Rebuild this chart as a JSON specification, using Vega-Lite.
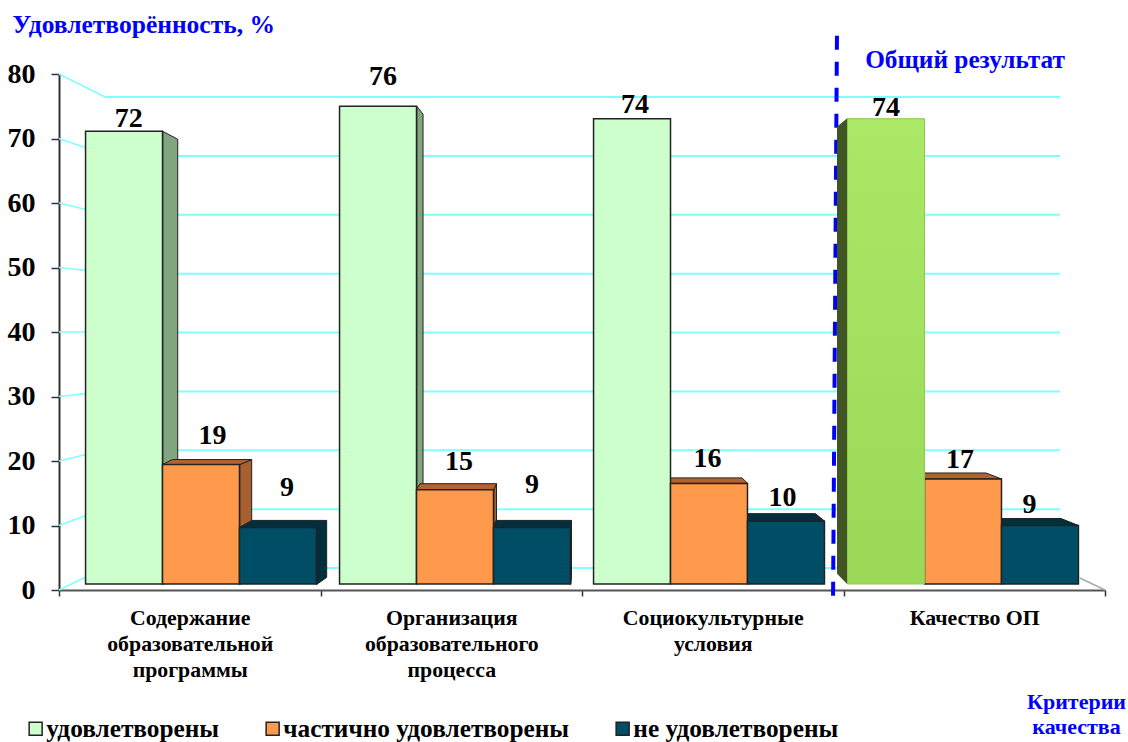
{"$schema":"https://vega.github.io/schema/vega-lite/v6.json","width":1128,"height":742,"autosize":{"type":"none"},"padding":0,"background":"white",
"config":{"view":{"stroke":null},"font":"Liberation Serif","text":{"font":"Liberation Serif","fontSize":28,"fontWeight":"bold","color":"#000"}},
"data":{"values":[
{"criterion":"Содержание\nобразовательной\nпрограммы","group":"удовлетворены","value":72,"bar":"a1"},
{"criterion":"Содержание\nобразовательной\nпрограммы","group":"частично удовлетворены","value":19,"bar":"b1"},
{"criterion":"Содержание\nобразовательной\nпрограммы","group":"не удовлетворены","value":9,"bar":"c1"},
{"criterion":"Организация\nобразовательного\nпроцесса","group":"удовлетворены","value":76,"bar":"a2"},
{"criterion":"Организация\nобразовательного\nпроцесса","group":"частично удовлетворены","value":15,"bar":"b2"},
{"criterion":"Организация\nобразовательного\nпроцесса","group":"не удовлетворены","value":9,"bar":"c2"},
{"criterion":"Социокультурные\nусловия","group":"удовлетворены","value":74,"bar":"a3"},
{"criterion":"Социокультурные\nусловия","group":"частично удовлетворены","value":16,"bar":"b3"},
{"criterion":"Социокультурные\nусловия","group":"не удовлетворены","value":10,"bar":"c3"},
{"criterion":"Качество ОП","group":"удовлетворены","value":74,"bar":"a4"},
{"criterion":"Качество ОП","group":"частично удовлетворены","value":16.7,"bar":"b4"},
{"criterion":"Качество ОП","group":"не удовлетворены","value":9.3,"bar":"c4"}
]},
"resolve":{"scale":{"x":"independent","y":"independent","shape":"independent"}},
"layer":[
{"data":{"values":[{"level":0},{"level":10},{"level":20},{"level":30},{"level":40},{"level":50},{"level":60},{"level":70},{"level":80}]},
 "mark":{"type":"rule","color":"#80ffff","strokeWidth":2},
 "encoding":{"y":{"field":"level","type":"quantitative","scale":{"domain":[0,80],"range":[568,97]},"axis":null},
  "x":{"datum":0,"type":"quantitative","scale":{"domain":[0,1],"range":[105,1060]},"axis":null},"x2":{"datum":1}}},
{"data":{"values":[{"level":0},{"level":10},{"level":20},{"level":30},{"level":40},{"level":50},{"level":60},{"level":70},{"level":80}]},
 "mark":{"type":"point","filled":false,"opacity":1,"size":40000,"stroke":"#80ffff","strokeWidth":1.5},
 "encoding":{"y":{"field":"level","type":"quantitative","scale":{"domain":[0,80],"range":[590,74]},"axis":null},
  "x":{"datum":0,"type":"quantitative","scale":{"domain":[0,4],"range":[59,1105]},"axis":null},
  "shape":{"field":"level","type":"nominal","legend":null,"scale":{"domain":[0,10,20,30,40,50,60,70,80],"range":["M0,0L0.46,-0.22","M0,0L0.46,-0.17","M0,0L0.46,-0.11","M0,0L0.46,-0.05","M0,0L0.46,0","M0,0L0.46,0.05","M0,0L0.46,0.11","M0,0L0.46,0.16","M0,0L0.46,0.23"]}}}},
{"data":{"values":[{"part":"floor"}]},"mark":{"type":"rule","color":"#aaaaaa","strokeWidth":1.5},
 "encoding":{"x":{"datum":3.904,"type":"quantitative","scale":{"domain":[0,4],"range":[59,1105]},"axis":null},"x2":{"datum":4},
  "y":{"datum":1.86,"type":"quantitative","scale":{"domain":[0,80],"range":[590,74]},"axis":null},"y2":{"datum":0}}},
{"data":{"values":[{"part":"divider"}]},"mark":{"type":"rule","color":"#0000ff","strokeWidth":4,"strokeDash":[14,12]},
 "encoding":{"x":{"datum":2.975,"type":"quantitative","scale":{"domain":[0,4],"range":[59,1105]},"axis":null},"x2":{"datum":2.96},
  "y":{"datum":85.94,"type":"quantitative","scale":{"domain":[0,80],"range":[590,74]},"axis":null},"y2":{"datum":-1.55}}},
{"data":{"values":[{"part":"note"}]},"mark":{"type":"text","color":"#0000ff","fontSize":25.3,"text":"Общий результат"},
 "encoding":{"x":{"datum":3.465,"type":"quantitative","scale":{"domain":[0,4],"range":[59,1105]},"axis":null},
  "y":{"datum":82.2,"type":"quantitative","scale":{"domain":[0,80],"range":[590,74]},"axis":null}}},
{"mark":{"type":"point","opacity":0},
 "encoding":{
  "x":{"field":"criterion","type":"nominal","sort":null,"scale":{"range":[59,1105],"paddingInner":0,"paddingOuter":0},
   "axis":{"orient":"bottom","offset":-152,"tickBand":"extent","labelAngle":0,"labelExpr":"split(datum.label,'\\n')","labelLineHeight":26,"labelLimit":400,"labelFont":"Liberation Serif","labelFontSize":21.8,"labelFontWeight":"bold","labelColor":"#000","labelPadding":11,"labelBaseline":"top","domainColor":"#555","domainWidth":2,"tickColor":"#333","tickSize":6,"tickWidth":1.5,"grid":false,
    "title":["Критерии","качества"],"titleX":1076,"titleY":101,"titleFont":"Liberation Serif","titleFontSize":22,"titleFontWeight":"bold","titleColor":"#0000ff","titleAlign":"center","titleLineHeight":25}},
  "y":{"field":"value","type":"quantitative","scale":{"domain":[0,80],"range":[590,74]},
   "axis":{"offset":-59,"values":[0,10,20,30,40,50,60,70,80],"grid":false,"labelFont":"Liberation Serif","labelFontSize":28,"labelFontWeight":"bold","labelColor":"#000","labelPadding":16,"tickSize":8,"tickColor":"#333","tickWidth":1.5,"domainColor":"#333","domainWidth":2,
    "title":"Удовлетворённость, %","titleAngle":0,"titleAlign":"left","titleBaseline":"alphabetic","titleX":-47,"titleY":32,"titleFont":"Liberation Serif","titleFontSize":25.5,"titleFontWeight":"bold","titleColor":"#0000ff"}}}},
{"resolve":{"scale":{"shape":"independent"}},
 "encoding":{
  "x":{"field":"criterion","type":"nominal","axis":null,"scale":{"domain":["Содержание\nобразовательной\nпрограммы","Организация\nобразовательного\nпроцесса","Социокультурные\nусловия","Качество ОП"],"range":[74,1090],"paddingInner":0,"paddingOuter":0}},
  "xOffset":{"field":"group","type":"nominal","scale":{"domain":["удовлетворены","частично удовлетворены","не удовлетворены"],"paddingInner":0,"paddingOuter":0.15}},
  "y":{"field":"value","type":"quantitative","axis":null,"scale":{"domain":[0,80],"range":[584,81]}}},
 "layer":[
 {"transform":[{"filter":"datum.bar=='a1'||datum.bar=='a2'"}],
  "mark":{"type":"point","filled":true,"opacity":1,"size":40000,"fill":"#81a57f","stroke":"#222","strokeWidth":1},
  "encoding":{"shape":{"field":"bar","type":"nominal","legend":null,"scale":{"domain":["a1","a2"],
   "range":["M0.387,0L0.537,0.08L0.537,4.45L0.387,4.53Z","M0.387,0L0.45,0.08L0.45,4.7L0.387,4.78Z"]}}}},
 {"transform":[{"filter":"datum.bar=='b1'||datum.bar=='b2'"}],
  "mark":{"type":"point","filled":true,"opacity":1,"size":40000,"fill":"#a76131","stroke":"#222","strokeWidth":1},
  "encoding":{"shape":{"field":"bar","type":"nominal","legend":null,"scale":{"domain":["b1","b2"],
   "range":["M0.387,0L0.507,-0.05L0.507,1.12L0.387,1.2Z","M0.387,0L0.415,-0.06L0.415,0.88L0.387,0.945Z"]}}}},
 {"transform":[{"filter":"datum.bar=='c1'||datum.bar=='c2'"}],
  "mark":{"type":"point","filled":true,"opacity":1,"size":40000,"fill":"#002e3c","stroke":"#222","strokeWidth":1},
  "encoding":{"shape":{"field":"bar","type":"nominal","legend":null,"scale":{"domain":["c1","c2"],
   "range":["M0.387,0L0.487,-0.07L0.487,0.5L0.387,0.57Z","M0.387,0L0.395,-0.07L0.395,0.5L0.387,0.57Z"]}}}},
 {"transform":[{"filter":"datum.bar=='a4'"}],
  "mark":{"type":"point","filled":true,"opacity":1,"size":40000,"fill":"#3f5522","stroke":"#3f5522","strokeWidth":1,"shape":"M-0.387,0L-0.485,0.08L-0.485,4.55L-0.387,4.65Z"}},
 {"transform":[{"filter":"datum.group=='частично удовлетворены'"}],
  "mark":{"type":"point","filled":true,"opacity":1,"size":40000,"fill":"#b4632f","stroke":"#222","strokeWidth":1},
  "encoding":{"shape":{"field":"bar","type":"nominal","legend":null,"scale":{"domain":["b1","b2","b3","b4"],
   "range":["M-0.387,0L-0.285,-0.05L0.507,-0.05L0.387,0Z","M-0.387,0L-0.35,-0.06L0.415,-0.06L0.387,0Z","M-0.387,0L-0.387,-0.055L0.33,-0.055L0.387,0Z","M-0.387,0L-0.387,-0.06L0.23,-0.06L0.387,0Z"]}}}},
 {"transform":[{"filter":"datum.group=='не удовлетворены'"}],
  "mark":{"type":"point","filled":true,"opacity":1,"size":40000,"fill":"#00303f","stroke":"#222","strokeWidth":1},
  "encoding":{"shape":{"field":"bar","type":"nominal","legend":null,"scale":{"domain":["c1","c2","c3","c4"],
   "range":["M-0.387,0L-0.26,-0.07L0.487,-0.07L0.387,0Z","M-0.387,0L-0.36,-0.07L0.395,-0.07L0.387,0Z","M-0.387,0L-0.387,-0.075L0.295,-0.075L0.387,0Z","M-0.387,0L-0.387,-0.07L0.21,-0.07L0.387,0Z"]}}}},
 {"transform":[{"filter":"datum.bar!='a4'"}],
  "mark":{"type":"bar","stroke":"#222","strokeWidth":1.5},
  "encoding":{"color":{"field":"group","type":"nominal","scale":{"domain":["удовлетворены","частично удовлетворены","не удовлетворены"],"range":["#ccffcc","#ff9a4d","#004d66"]},
   "legend":{"title":null,"orient":"none","legendX":23,"legendY":716,"direction":"horizontal","symbolType":"square","symbolSize":169,"symbolStrokeColor":"#222","symbolStrokeWidth":1.5,"labelFont":"Liberation Serif","labelFontSize":25.3,"labelFontWeight":"bold","labelColor":"#000","labelOffset":-2,"labelLimit":500,"columnPadding":40,"padding":0}}}},
 {"transform":[{"filter":"datum.bar=='a4'"}],
  "mark":{"type":"bar","stroke":"#8fc850","strokeWidth":1,"fill":{"x1":0,"y1":0,"x2":0,"y2":1,"gradient":"linear","stops":[{"offset":0,"color":"#aae866"},{"offset":1,"color":"#9cd858"}]}}},
 {"transform":[{"filter":"datum.bar=='a1'"}],"mark":{"type":"text","dx":4.7,"dy":-12},"encoding":{"text":{"field":"value","type":"quantitative","format":".0f"}}},
 {"transform":[{"filter":"datum.bar=='a2'"}],"mark":{"type":"text","dx":5,"dy":-29},"encoding":{"text":{"field":"value","type":"quantitative","format":".0f"}}},
 {"transform":[{"filter":"datum.bar=='a3'"}],"mark":{"type":"text","dx":3,"dy":-14},"encoding":{"text":{"field":"value","type":"quantitative","format":".0f"}}},
 {"transform":[{"filter":"datum.bar=='a4'"}],"mark":{"type":"text","dx":0,"dy":-11},"encoding":{"text":{"field":"value","type":"quantitative","format":".0f"}}},
 {"transform":[{"filter":"datum.bar=='b1'"}],"mark":{"type":"text","dx":11.5,"dy":-29},"encoding":{"text":{"field":"value","type":"quantitative","format":".0f"}}},
 {"transform":[{"filter":"datum.bar=='b2'"}],"mark":{"type":"text","dx":4,"dy":-27.5},"encoding":{"text":{"field":"value","type":"quantitative","format":".0f"}}},
 {"transform":[{"filter":"datum.bar=='b3'"}],"mark":{"type":"text","dx":-1.5,"dy":-24},"encoding":{"text":{"field":"value","type":"quantitative","format":".0f"}}},
 {"transform":[{"filter":"datum.bar=='b4'"}],"mark":{"type":"text","dx":-3,"dy":-19},"encoding":{"text":{"field":"value","type":"quantitative","format":".0f"}}},
 {"transform":[{"filter":"datum.bar=='c1'"}],"mark":{"type":"text","dx":9,"dy":-39},"encoding":{"text":{"field":"value","type":"quantitative","format":".0f"}}},
 {"transform":[{"filter":"datum.bar=='c2'"}],"mark":{"type":"text","dx":0,"dy":-42},"encoding":{"text":{"field":"value","type":"quantitative","format":".0f"}}},
 {"transform":[{"filter":"datum.bar=='c3'"}],"mark":{"type":"text","dx":-3.5,"dy":-23},"encoding":{"text":{"field":"value","type":"quantitative","format":".0f"}}},
 {"transform":[{"filter":"datum.bar=='c4'"}],"mark":{"type":"text","dx":-10.5,"dy":-20.5},"encoding":{"text":{"field":"value","type":"quantitative","format":".0f"}}}
 ]}
]}
